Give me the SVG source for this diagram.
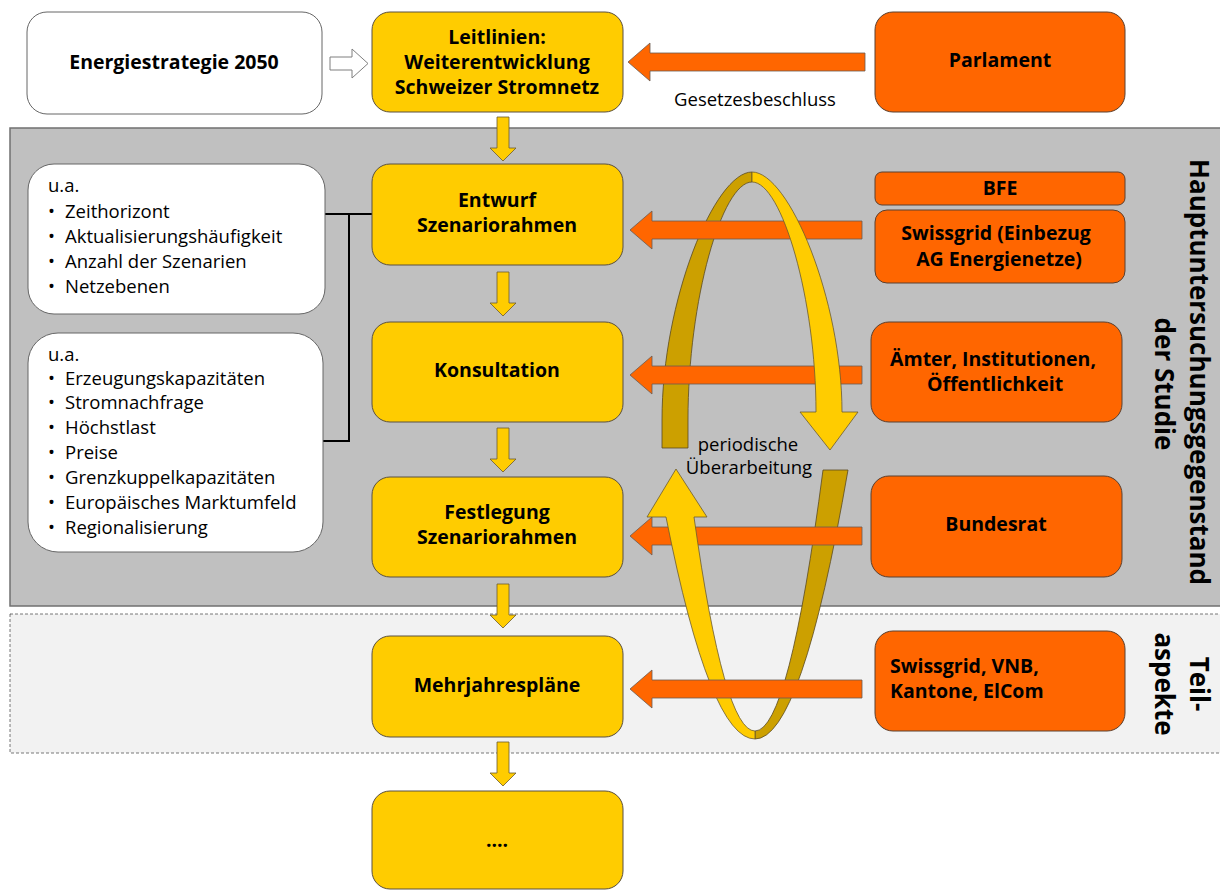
<svg xmlns="http://www.w3.org/2000/svg" width="1220" height="891" viewBox="0 0 1220 891">
<defs>
<style>
.t{font-family:"Open Sans","Noto Sans","DejaVu Sans",sans-serif;fill:#000}
.b{font-weight:bold;font-size:19.5px;text-anchor:middle}
.bl{font-weight:bold;font-size:19.5px;text-anchor:start}
.r{font-size:18.5px}
.c{font-size:18.5px;text-anchor:middle}
.v{font-weight:bold;font-size:26px;text-anchor:middle}
.yb{fill:#FFCC00;stroke:#5a5040;stroke-width:1}
.ob{fill:#FF6600;stroke:#5a4030;stroke-width:1}
.wb{fill:#fff;stroke:#666;stroke-width:1}
.oa{fill:#FF6600;stroke:#6b5a50;stroke-width:0.8}
.ya{fill:#FFCC00;stroke:#6b5a30;stroke-width:0.8}
.da{fill:#CCA000;stroke:#5a4a20;stroke-width:0.8}
</style>
</defs>
<rect width="1220" height="891" fill="#fff"/>
<g id="bands">
<rect x="10" y="128" width="1215" height="478" fill="#C0C0C0" stroke="#707070" stroke-width="1.5"/>
<rect x="10" y="614" width="1215" height="139" fill="#F2F2F2" stroke="#555" stroke-width="0.8" stroke-dasharray="3,2"/>
</g>
<g id="labels-side">
<text class="t v" transform="translate(1190,372) rotate(90)">Hauptuntersuchungsgegenstand</text>
<text class="t v" transform="translate(1155,384) rotate(90)">der Studie</text>
<text class="t v" transform="translate(1190,684) rotate(90)">Teil-</text>
<text class="t v" transform="translate(1155,684) rotate(90)">aspekte</text>
</g>
<g id="connectors">
<path d="M330,57 L352,57 L352,49 L368,63.5 L352,78 L352,70 L330,70 Z" fill="#fff" stroke="#7f7f7f" stroke-width="1"/>
<path class="oa" d="M628,62 L650,43 L650,53 L865,53 L865,71 L650,71 L650,81 Z"/>
<path d="M325,214 L372,214 M349,214 L349,441 L323,441" fill="none" stroke="#000" stroke-width="2"/>
<path class="ya" d="M497,117 L509,117 L509,148 L516,148 L503,161 L490,148 L497,148 Z"/>
<path class="ya" d="M497,272 L509,272 L509,303 L516,303 L503,316 L490,303 L497,303 Z"/>
<path class="ya" d="M497,428 L509,428 L509,459 L516,459 L503,472 L490,459 L497,459 Z"/>
<path class="ya" d="M497,584 L509,584 L509,615 L516,615 L503,628 L490,615 L497,615 Z"/>
<path class="ya" d="M497,742 L509,742 L509,773 L516,773 L503,786 L490,773 L497,773 Z"/>
<path class="da" d="M662,448 L662,420 C662,300 715,172 752,172 L752,182 C722,182 688,300 688,420 L688,448 Z"/>
<path class="da" d="M823,470 L848,470 Q801.5,739 755,739 L755,731 Q789,731 823,470 Z"/>
<path class="oa" d="M630,230 L652,211 L652,221 L862,221 L862,239 L652,239 L652,249 Z"/>
<path class="oa" d="M630,375 L652,356 L652,366 L862,366 L862,384 L652,384 L652,394 Z"/>
<path class="oa" d="M630,536 L652,517 L652,527 L862,527 L862,545 L652,545 L652,555 Z"/>
<path class="ya" d="M752,172 C789,172 842,300 842,412 L858,412 L830,450 L800,412 L816,412 C816,300 782,182 752,182 Z"/>
<path class="ya" d="M647,517 L676,469 L707,517 L694,517 Q724,731 755,731 L755,739 Q710,739 666,517 Z"/>
<path class="oa" d="M630,689 L652,670 L652,680 L862,680 L862,698 L652,698 L652,708 Z"/>
<text class="t c" x="755" y="106">Gesetzesbeschluss</text>
<text class="t c" x="748" y="451">periodische</text>
<text class="t c" x="749" y="474">Überarbeitung</text>
</g>
<g id="energiestrategie">
<rect class="wb" x="27" y="12" width="295" height="102" rx="20"/>
<text class="t b" x="174" y="69">Energiestrategie 2050</text>
</g>
<g id="leitlinien">
<rect class="yb" x="372" y="12" width="251" height="100" rx="18"/>
<text class="t b" x="497" y="44">Leitlinien:</text>
<text class="t b" x="497" y="69">Weiterentwicklung</text>
<text class="t b" x="497" y="94">Schweizer Stromnetz</text>
</g>
<g id="parlament">
<rect class="ob" x="875" y="12" width="250" height="100" rx="18"/>
<text class="t b" x="1000" y="67">Parlament</text>
</g>
<g id="kriterien1">
<rect class="wb" x="28" y="164" width="297" height="150" rx="26"/>
<text class="t r" x="48" y="192">u.a.</text>
<text class="t r" x="48" y="218">•</text><text class="t r" x="65" y="218">Zeithorizont</text>
<text class="t r" x="48" y="243">•</text><text class="t r" x="65" y="243">Aktualisierungshäufigkeit</text>
<text class="t r" x="48" y="268">•</text><text class="t r" x="65" y="268">Anzahl der Szenarien</text>
<text class="t r" x="48" y="293">•</text><text class="t r" x="65" y="293">Netzebenen</text>
</g>
<g id="kriterien2">
<rect class="wb" x="28" y="333" width="295" height="219" rx="30"/>
<text class="t r" x="48" y="361">u.a.</text>
<text class="t r" x="48" y="385">•</text><text class="t r" x="65" y="385">Erzeugungskapazitäten</text>
<text class="t r" x="48" y="409">•</text><text class="t r" x="65" y="409">Stromnachfrage</text>
<text class="t r" x="48" y="434">•</text><text class="t r" x="65" y="434">Höchstlast</text>
<text class="t r" x="48" y="459">•</text><text class="t r" x="65" y="459">Preise</text>
<text class="t r" x="48" y="484">•</text><text class="t r" x="65" y="484">Grenzkuppelkapazitäten</text>
<text class="t r" x="48" y="509">•</text><text class="t r" x="65" y="509">Europäisches Marktumfeld</text>
<text class="t r" x="48" y="534">•</text><text class="t r" x="65" y="534">Regionalisierung</text>
</g>
<g id="entwurf">
<rect class="yb" x="372" y="164" width="251" height="101" rx="18"/>
<text class="t b" x="497" y="207">Entwurf</text>
<text class="t b" x="497" y="232">Szenariorahmen</text>
</g>
<g id="konsultation">
<rect class="yb" x="372" y="322" width="251" height="100" rx="18"/>
<text class="t b" x="497" y="377">Konsultation</text>
</g>
<g id="festlegung">
<rect class="yb" x="372" y="477" width="251" height="100" rx="18"/>
<text class="t b" x="497" y="519">Festlegung</text>
<text class="t b" x="497" y="544">Szenariorahmen</text>
</g>
<g id="mehrjahresplaene">
<rect class="yb" x="372" y="636" width="251" height="101" rx="18"/>
<text class="t b" x="497" y="692">Mehrjahrespläne</text>
</g>
<g id="weitere">
<rect class="yb" x="372" y="791" width="251" height="98" rx="18"/>
<text class="t b" x="497" y="847">....</text>
</g>
<g id="bfe">
<rect class="ob" x="875" y="172" width="250" height="33" rx="7"/>
<text class="t b" x="1000" y="195">BFE</text>
</g>
<g id="swissgrid">
<rect class="ob" x="875" y="210" width="250" height="73" rx="12"/>
<text class="t b" x="996" y="240">Swissgrid (Einbezug</text>
<text class="t b" x="999" y="266">AG Energienetze)</text>
</g>
<g id="aemter">
<rect class="ob" x="871" y="322" width="251" height="100" rx="18"/>
<text class="t b" x="993" y="366">Ämter, Institutionen,</text>
<text class="t b" x="995" y="391">Öffentlichkeit</text>
</g>
<g id="bundesrat">
<rect class="ob" x="871" y="476" width="251" height="101" rx="18"/>
<text class="t b" x="996" y="531">Bundesrat</text>
</g>
<g id="netzbetreiber">
<rect class="ob" x="875" y="631" width="250" height="100" rx="18"/>
<text class="t bl" x="890" y="673">Swissgrid, VNB,</text>
<text class="t bl" x="890" y="698">Kantone, ElCom</text>
</g>
</svg>
